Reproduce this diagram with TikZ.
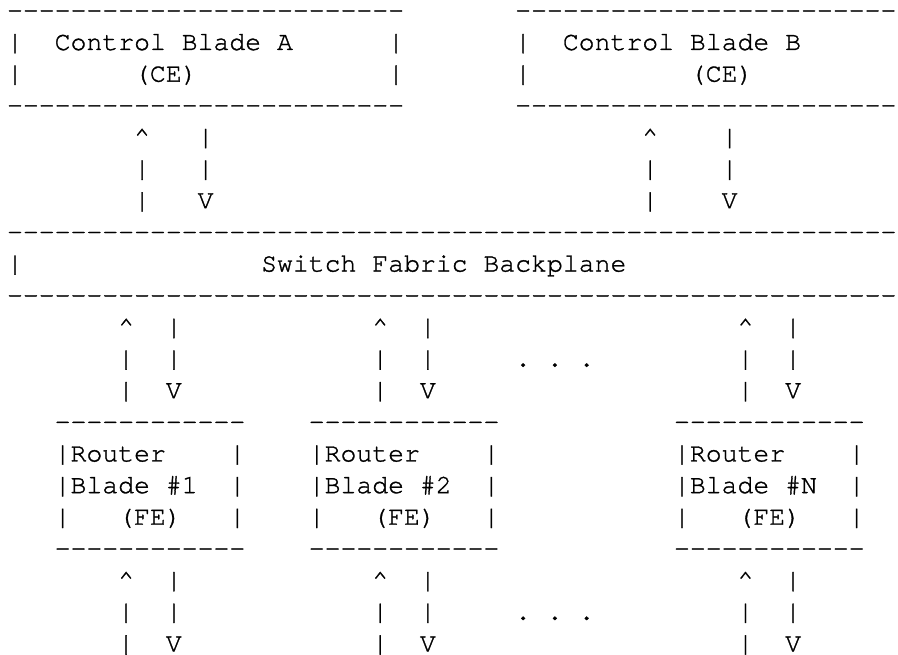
\documentclass[tikz,border=0pt]{standalone}
\usepackage{fontspec}
\setmonofont{texgyrecursor-regular.otf}[FakeBold=1.2]
\newcommand\tk[4]{\node[asc] (#1) at ({7.06+15.88*(#2)},{636.65-31.65*(#3)}) {#4};}
\newcommand\cc{\textasciicircum}
\newcommand\dsh[1]{\foreach \i in {1,...,#1}{-\kern0pt}}
\begin{document}
\begin{tikzpicture}[x=1pt,y=1pt,
  asc/.style={anchor=base west, inner sep=0pt, outer sep=0pt, text=black,
    font=\ttfamily\fontsize{26.47}{31.65}\selectfont}]
\useasboundingbox (0,0) rectangle (898,655);
\clip (0,0) rectangle (898,655);
% Control blade A
\tk{caT}{0}{0}{\dsh{25}}
\tk{caL1}{0}{1}{|}\tk{caName}{3}{1}{Control Blade A}\tk{caR1}{24}{1}{|}
\tk{caL2}{0}{2}{|}\tk{caCE}{8}{2}{(CE)}\tk{caR2}{24}{2}{|}
\tk{caB}{0}{3}{\dsh{25}}
% Control blade B
\tk{cbT}{32}{0}{\dsh{25}}
\tk{cbL1}{32}{1}{|}\tk{cbName}{35}{1}{Control Blade B}\tk{cbR1}{56}{1}{|}
\tk{cbL2}{32}{2}{|}\tk{cbCE}{43}{2}{(CE)}\tk{cbR2}{56}{2}{|}
\tk{cbB}{32}{3}{\dsh{25}}
% links CE - backplane
\tk{aU1}{8}{4}{\cc}\tk{aD1}{12}{4}{|}
\tk{aU2}{8}{5}{|}\tk{aD2}{12}{5}{|}
\tk{aU3}{8}{6}{|}\tk{aD3}{12}{6}{V}
\tk{bU1}{40}{4}{\cc}\tk{bD1}{45}{4}{|}
\tk{bU2}{40}{5}{|}\tk{bD2}{45}{5}{|}
\tk{bU3}{40}{6}{|}\tk{bD3}{45}{6}{V}
% backplane
\tk{sfT}{0}{7}{\dsh{57}}
\tk{sfL}{0}{8}{|}\tk{sfName}{16}{8}{Switch Fabric Backplane}
\tk{sfB}{0}{9}{\dsh{57}}
% links backplane - router blades
\foreach \c/\d/\n in {7/10/a, 23/26/b, 46/49/c}{
  \tk{u1\n}{\c}{10}{\cc}\tk{d1\n}{\d}{10}{|}
  \tk{u2\n}{\c}{11}{|}\tk{d2\n}{\d}{11}{|}
  \tk{u3\n}{\c}{12}{|}\tk{d3\n}{\d}{12}{V}
  \tk{l1\n}{\c}{18}{\cc}\tk{e1\n}{\d}{18}{|}
  \tk{l2\n}{\c}{19}{|}\tk{e2\n}{\d}{19}{|}
  \tk{l3\n}{\c}{20}{|}\tk{e3\n}{\d}{20}{V}
}
\tk{dotsA}{32}{11}{. . .}
\tk{dotsB}{32}{19}{. . .}
% router blades
\foreach \s/\n/\k in {3/1/a, 19/2/b, 42/N/c}{
  \tk{rT\k}{\s}{13}{\dsh{12}}
  \tk{rA\k}{\s}{14}{|Router}\tk{rAr\k}{\s+11}{14}{|}
  \tk{rB\k}{\s}{15}{|Blade \#\n}\tk{rBr\k}{\s+11}{15}{|}
  \tk{rC\k}{\s}{16}{|}\tk{rFE\k}{\s+4}{16}{(FE)}\tk{rCr\k}{\s+11}{16}{|}
  \tk{rD\k}{\s}{17}{\dsh{12}}
}
\end{tikzpicture}
\end{document}
